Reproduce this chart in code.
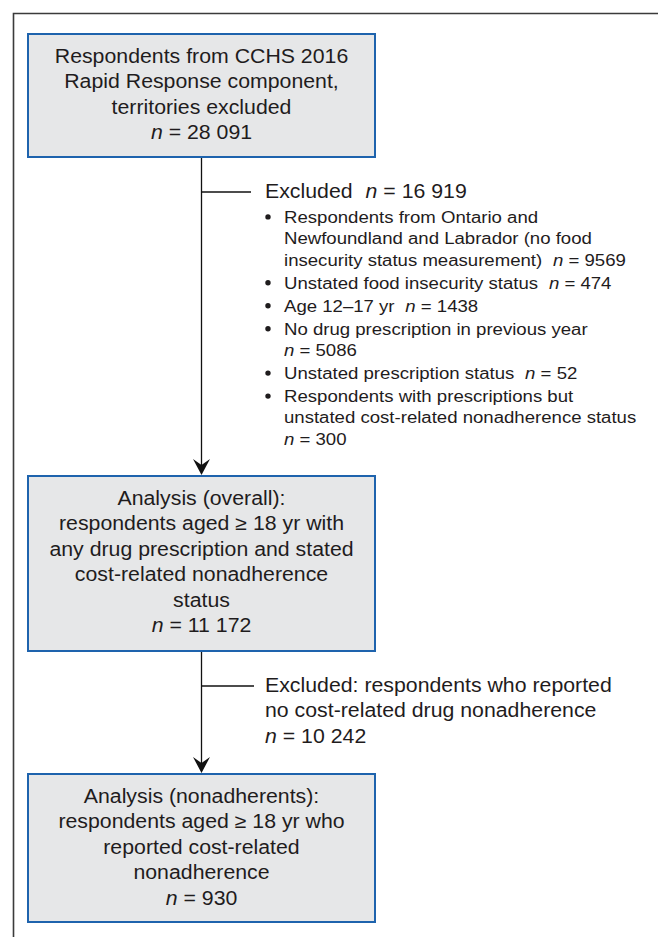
<!DOCTYPE html>
<html>
<head>
<meta charset="utf-8">
<script src="https://cdn.jsdelivr.net/npm/d3@7"></script>
<style>
  body { margin: 0; background: #fff; }
</style>
</head>
<body>
<div id="chart"></div>
<script>
// flow boxes (top to bottom)
const boxLines = [
  ["Respondents from CCHS 2016", "Rapid Response component,", "territories excluded"],
  ["Analysis (overall):", "respondents aged \u2265 18 yr with", "any drug prescription and stated", "cost-related nonadherence", "status"],
  ["Analysis (nonadherents):", "respondents aged \u2265 18 yr who", "reported cost-related", "nonadherence"]
];
const boxCounts = ["28 091", "11 172", "930"];

// exclusion between box 1 and 2
const excl1Head = "Excluded";
const excl1Count = "16 919";
const reasonLines = [
  ["Respondents from Ontario and", "Newfoundland and Labrador (no food", "insecurity status measurement)"],
  ["Unstated food insecurity status"],
  ["Age 12\u201317 yr"],
  ["No drug prescription in previous year"],
  ["Unstated prescription status"],
  ["Respondents with prescriptions but", "unstated cost-related nonadherence status"]
];
const reasonCounts = ["9569", "474", "1438", "5086", "52", "300"];
const reasonCountOwnLine = [false, false, false, true, false, true];

// exclusion between box 2 and 3
const excl2Lines = ["Excluded: respondents who reported", "no cost-related drug nonadherence"];
const excl2Count = "10 242";

const width = 658, height = 937;
const FONT = "'Liberation Sans', Arial, Helvetica, sans-serif";
const INK = "#1f1c1d";
const SX = 1.08; // glyphs in the original are a bit wider than Arial

const boxX = 28, boxW = 347;
const boxTop = [34, 476, 774];
const boxH = [123, 175, 148];
const cx = boxX + boxW / 2;
const bigSize = 21.3 / SX, smallSize = 18.6 / SX;

const svg = d3.create("svg")
  .attr("width", width)
  .attr("height", height);

// outer frame (top + left only)
svg.append("path")
  .attr("d", `M13.5,${height} V13.5 H${width}`)
  .attr("fill", "none")
  .attr("stroke", "#3b3b3b")
  .attr("stroke-width", 1.6);

// helper: text line with optional italic n
function addLine(g, x, y, str, count, size, anchor, gap) {
  const t = g.append("text")
    .attr("transform", `translate(${x},${y}) scale(${SX},1)`)
    .attr("text-anchor", anchor)
    .attr("font-family", FONT)
    .attr("font-size", size)
    .attr("fill", INK);
  if (str) t.append("tspan").text(str);
  if (count != null) {
    t.append("tspan")
      .attr("font-style", "italic")
      .attr("dx", str ? gap : 0)
      .text("n");
    t.append("tspan").text(" = " + count);
  }
  return t;
}

// connectors
const link = svg.append("g").attr("stroke", "#111").attr("stroke-width", 1.3).attr("fill", "none");
[[boxTop[0] + boxH[0], boxTop[1]], [boxTop[1] + boxH[1], boxTop[2]]].forEach(([y0, y1]) => {
  link.append("line").attr("x1", cx).attr("x2", cx).attr("y1", y0).attr("y2", y1 - 6);
  svg.append("path")
    .attr("d", `M${cx},${y1 - 1} L${cx - 8.5},${y1 - 17} L${cx},${y1 - 11} L${cx + 8.5},${y1 - 17} Z`)
    .attr("fill", "#111");
});
link.append("line").attr("x1", cx).attr("x2", 251).attr("y1", 192).attr("y2", 192);
link.append("line").attr("x1", cx).attr("x2", 254).attr("y1", 686).attr("y2", 686);

// boxes
const boxes = svg.append("g");
boxLines.forEach((lines, i) => {
  boxes.append("rect")
    .attr("x", boxX).attr("y", boxTop[i])
    .attr("width", boxW).attr("height", boxH[i])
    .attr("fill", "#e6e7e8")
    .attr("stroke", "#1e63ad")
    .attr("stroke-width", 2);
  const y0 = boxTop[i] + 28.5;
  lines.forEach((l, j) => addLine(boxes, cx, y0 + j * 25.5, l, null, bigSize, "middle"));
  addLine(boxes, cx, y0 + lines.length * 25.5, "", boxCounts[i], bigSize, "middle");
});

// exclusion 1
const ex = svg.append("g");
addLine(ex, 265, 198, excl1Head, excl1Count, bigSize, "start", 12);
let y = 222.7;
reasonLines.forEach((lines, i) => {
  ex.append("circle").attr("cx", 268).attr("cy", y - 5.8).attr("r", 2.7).attr("fill", INK);
  lines.forEach((l, j) => {
    const last = j === lines.length - 1;
    addLine(ex, 284, y, l, last && !reasonCountOwnLine[i] ? reasonCounts[i] : null, smallSize, "start", 10);
    y += 21.4;
  });
  if (reasonCountOwnLine[i]) {
    addLine(ex, 284, y, "", reasonCounts[i], smallSize, "start");
    y += 21.4;
  }
  y += 1.6;
});

// exclusion 2
excl2Lines.forEach((l, j) => addLine(ex, 265, 691.5 + j * 25.5, l, null, bigSize, "start"));
addLine(ex, 265, 691.5 + excl2Lines.length * 25.5, "", excl2Count, bigSize, "start");

document.getElementById("chart").appendChild(svg.node());
</script>
</body>
</html>
